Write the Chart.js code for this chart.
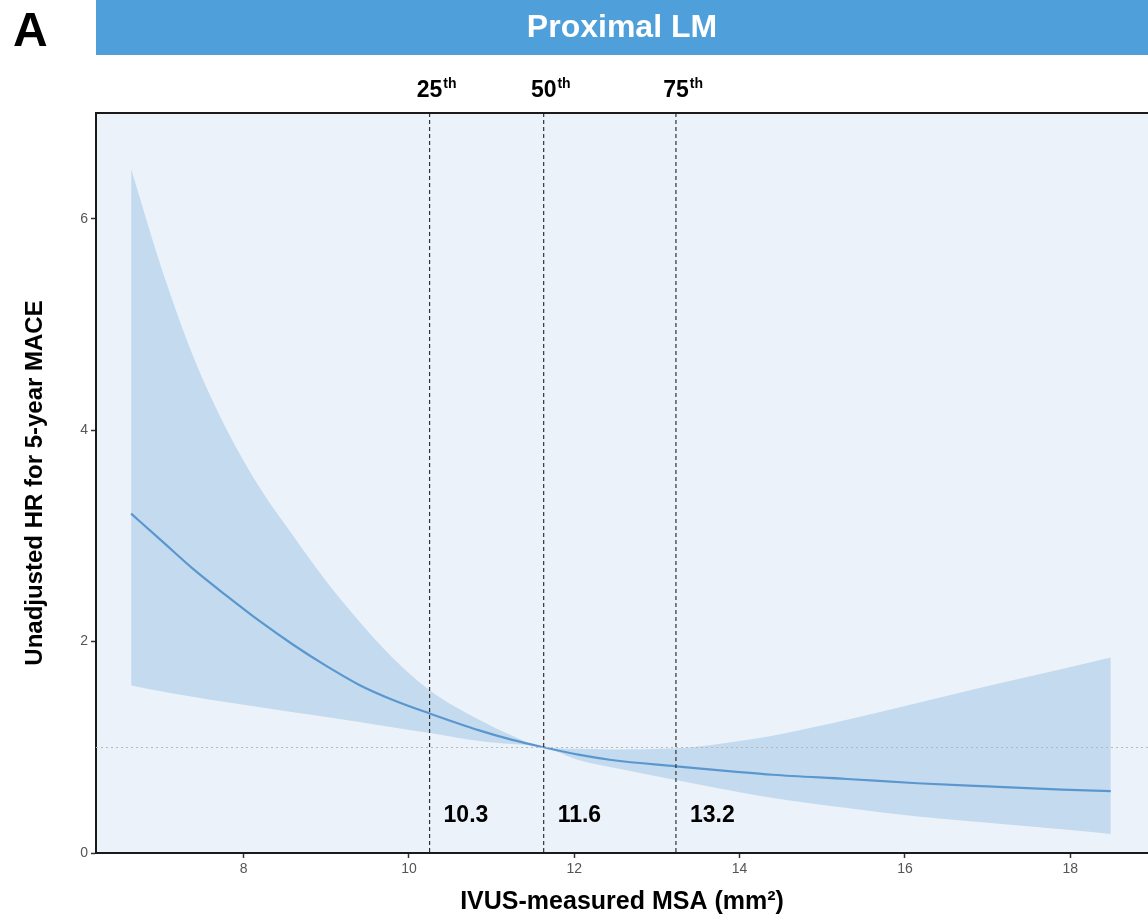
<!DOCTYPE html>
<html>
<head>
<meta charset="utf-8">
<script src="https://cdn.jsdelivr.net/npm/chart.js@4.4.1/dist/chart.umd.min.js"></script>
<style>
  html, body { margin: 0; padding: 0; background: #ffffff; overflow: hidden; }
  #wrap { width: 1148px; height: 923px; position: relative; }
</style>
</head>
<body>
<div id="wrap"><canvas id="chart" width="1148" height="923"></canvas></div>
<script>
// Minimal stent area (mm²) grid and hazard ratios for 5-year MACE
const msa      = [6.64, 7.0, 7.4, 7.8, 8.2, 8.6, 9.0, 9.4, 9.8, 10.25, 10.85, 11.25, 11.63, 12.05, 12.45, 13.23, 14.0, 14.4, 15.3, 16.15, 17.0, 17.9, 18.49];
const hr       = [3.21, 2.96, 2.68, 2.43, 2.19, 1.97, 1.77, 1.59, 1.45, 1.32, 1.16, 1.07, 1.00, 0.93, 0.88, 0.82, 0.765, 0.74, 0.70, 0.66, 0.63, 0.60, 0.585];
const hrUpper  = [6.47, 5.55, 4.68, 4.00, 3.45, 3.00, 2.57, 2.19, 1.85, 1.54, 1.26, 1.11, 1.00, 0.985, 0.98, 0.99, 1.06, 1.11, 1.26, 1.42, 1.58, 1.74, 1.85];
const hrLower  = [1.585, 1.53, 1.475, 1.425, 1.378, 1.332, 1.287, 1.24, 1.19, 1.135, 1.06, 1.03, 1.00, 0.88, 0.81, 0.69, 0.575, 0.52, 0.425, 0.345, 0.285, 0.225, 0.18];

// Quartiles of MSA
const pctNames  = ['25', '50', '75'];
const pctValues = [10.25, 11.63, 13.23];

// Axis ticks
const xTicks = [8, 10, 12, 14, 16, 18];
const yTicks = [0, 2, 4, 6];

const panelLetter = 'A';
const panelTitle = 'Proximal LM';
const xTitle = 'IVUS-measured MSA (mm²)';
const yTitle = 'Unadjusted HR for 5-year MACE';
const refHR = 1;

const FONT = '"Liberation Sans", Arial, sans-serif';
const toPts = ys => msa.map((x, i) => ({ x: x, y: ys[i] }));

const decor = {
  id: 'decor',
  beforeDraw(chart) {
    const { ctx, chartArea: a } = chart;
    ctx.save();
    // panel strip
    ctx.fillStyle = '#4f9fdb';
    ctx.fillRect(a.left, 0, chart.width - a.left, 55);
    ctx.fillStyle = '#ffffff';
    ctx.font = 'bold 32px ' + FONT;
    ctx.textAlign = 'center';
    ctx.textBaseline = 'middle';
    ctx.fillText(panelTitle, (a.left + a.right) / 2, 28);
    // panel letter
    ctx.fillStyle = '#000000';
    ctx.font = 'bold 48px ' + FONT;
    ctx.textAlign = 'left';
    ctx.textBaseline = 'alphabetic';
    ctx.fillText(panelLetter, 13, 46);
    // plot background
    ctx.fillStyle = '#ebf2fa';
    ctx.fillRect(a.left, a.top, a.right - a.left, a.bottom - a.top);
    ctx.restore();
  },
  afterDatasetsDraw(chart) {
    const { ctx, chartArea: a, scales: { x, y } } = chart;
    ctx.save();
    // reference line at HR = 1
    ctx.strokeStyle = '#b8b8b8';
    ctx.lineWidth = 1;
    ctx.setLineDash([2, 3]);
    const yr = Math.round(y.getPixelForValue(refHR)) + 0.5;
    ctx.beginPath();
    ctx.moveTo(a.left, yr);
    ctx.lineTo(a.right, yr);
    ctx.stroke();
    // quartile markers
    ctx.strokeStyle = '#333333';
    ctx.lineWidth = 1.2;
    ctx.setLineDash([4, 3]);
    pctValues.forEach((v, i) => {
      const px = x.getPixelForValue(v);
      ctx.beginPath();
      ctx.moveTo(px, a.top);
      ctx.lineTo(px, a.bottom);
      ctx.stroke();
      // percentile label above the plot
      ctx.fillStyle = '#000000';
      ctx.textBaseline = 'alphabetic';
      ctx.textAlign = 'center';
      ctx.font = 'bold 23px ' + FONT;
      ctx.fillText(pctNames[i], px, 97);
      const w = ctx.measureText(pctNames[i]).width;
      ctx.textAlign = 'left';
      ctx.font = 'bold 14px ' + FONT;
      ctx.fillText('th', px + w / 2 + 1, 88);
      // value label inside the plot
      ctx.font = 'bold 23px ' + FONT;
      ctx.fillText(v.toFixed(1), px + 14, 822);
    });
    ctx.setLineDash([]);
    // top border of the panel
    ctx.strokeStyle = '#1a1a1a';
    ctx.lineWidth = 2;
    ctx.beginPath();
    ctx.moveTo(a.left - 1, a.top);
    ctx.lineTo(a.right, a.top);
    ctx.stroke();
    ctx.restore();
  }
};

new Chart(document.getElementById('chart'), {
  type: 'line',
  data: {
    datasets: [
      {
        label: 'HR',
        data: toPts(hr),
        borderWidth: 2.2,
        borderColor: '#5b97cf',
        pointRadius: 0,
        fill: false,
        cubicInterpolationMode: 'monotone'
      },
      {
        label: 'upper',
        data: toPts(hrUpper),
        borderWidth: 0,
        borderColor: 'rgba(0,0,0,0)',
        backgroundColor: '#c4dbef',
        pointRadius: 0,
        fill: '+1',
        cubicInterpolationMode: 'monotone'
      },
      {
        label: 'lower',
        data: toPts(hrLower),
        borderWidth: 0,
        borderColor: 'rgba(0,0,0,0)',
        pointRadius: 0,
        fill: false,
        cubicInterpolationMode: 'monotone'
      }
    ]
  },
  options: {
    responsive: false,
    animation: false,
    events: [],
    layout: { padding: { top: 113, left: 0, right: 0, bottom: 0 } },
    plugins: {
      legend: { display: false },
      tooltip: { enabled: false },
      filler: { drawTime: 'beforeDatasetsDraw' }
    },
    scales: {
      x: {
        type: 'linear',
        min: 6.215,
        max: 18.94,
        afterBuildTicks: s => { s.ticks = xTicks.map(v => ({ value: v })); },
        afterFit: s => { s.height = 70; },
        grid: { drawOnChartArea: false, drawTicks: true, tickLength: 5, tickColor: '#333333', tickWidth: 1.5 },
        border: { display: true, color: '#1a1a1a', width: 2 },
        ticks: {
          color: '#555555',
          padding: 3,
          maxRotation: 0,
          font: { family: FONT, size: 14 }
        },
        title: {
          display: true,
          text: xTitle,
          color: '#000000',
          padding: { top: 0, bottom: 6 },
          font: { family: FONT, size: 25, weight: 'bold' }
        }
      },
      y: {
        type: 'linear',
        min: 0,
        max: 7,
        afterBuildTicks: s => { s.ticks = yTicks.map(v => ({ value: v })); },
        afterFit: s => { s.width = 96; },
        grid: { drawOnChartArea: false, drawTicks: true, tickLength: 5, tickColor: '#333333', tickWidth: 1.5 },
        border: { display: true, color: '#1a1a1a', width: 2 },
        ticks: {
          color: '#555555',
          padding: 3,
          font: { family: FONT, size: 14 }
        },
        title: {
          display: true,
          text: yTitle,
          color: '#000000',
          padding: { top: 21, bottom: 0 },
          font: { family: FONT, size: 24, weight: 'bold' }
        }
      }
    }
  },
  plugins: [decor]
});
</script>
</body>
</html>
